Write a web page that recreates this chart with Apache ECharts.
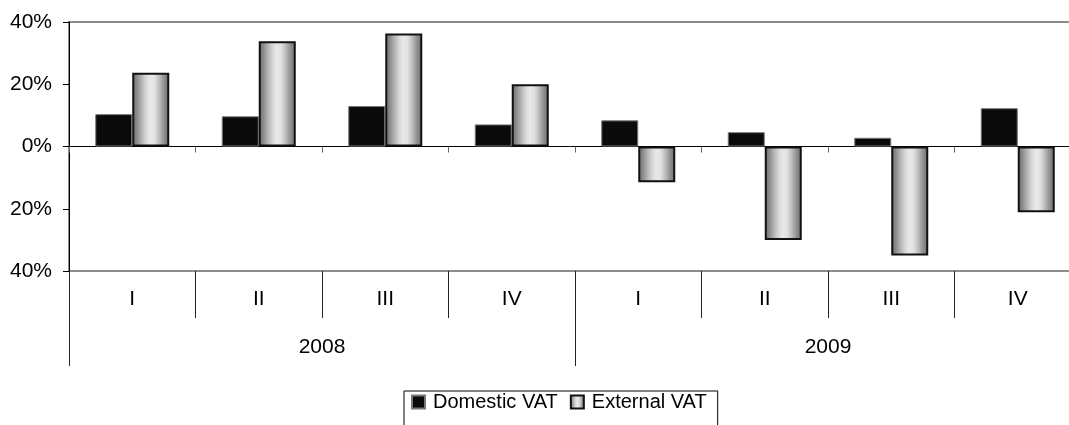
<!DOCTYPE html>
<html>
<head>
<meta charset="utf-8">
<script src="https://cdn.jsdelivr.net/npm/echarts@6/dist/echarts.min.js"></script>
<style>
html,body{margin:0;padding:0;background:#fff;}
#c{width:1069px;height:425px;}
</style>
</head>
<body>
<div id="c"></div>
<script>
const quarters = ['I','II','III','IV','I','II','III','IV'];
const years = ['2008','2009'];
const domesticVAT = [10.4, 9.7, 13.0, 7.1, 8.4, 4.6, 2.8, 12.3];
const externalVAT = [23.7, 33.8, 36.3, 20.0, -11.5, -30.0, -35.0, -21.1];
const seriesNames = ['Domestic VAT', 'External VAT'];

const FONT = 'Liberation Sans, Arial, sans-serif';
const chart = echarts.init(document.getElementById('c'), null, {renderer:'canvas'});

const extGradient = new echarts.graphic.LinearGradient(0,0,1,0,[
  {offset:0, color:'#6a6a6a'},
  {offset:0.12, color:'#8a8a8a'},
  {offset:0.25, color:'#b4b4b4'},
  {offset:0.38, color:'#d8d8d8'},
  {offset:0.48, color:'#e8e8e8'},
  {offset:0.6, color:'#e2e2e2'},
  {offset:0.72, color:'#c0c0c0'},
  {offset:0.86, color:'#909090'},
  {offset:1, color:'#6a6a6a'}
]);

chart.setOption({
  animation:false,
  backgroundColor:'#fff',
  textStyle:{fontFamily:FONT},
  grid:{left:69, top:22, width:1012, height:249, show:true, borderColor:'#8c8c8c', borderWidth:2,
        backgroundColor:'transparent', containLabel:false, outerBoundsMode:'none'},
  legend:{
    data:seriesNames.map(n => ({name:n, icon:'rect'})),
    left:404, top:391,
    padding:[1,11,30,7],
    itemGap:12,
    itemWidth:13, itemHeight:13,
    borderColor:'#000', borderWidth:1,
    textStyle:{fontFamily:FONT, fontSize:20, color:'#000', padding:[0,0,0,3]}
  },
  xAxis:[
    {
      type:'category', data:quarters, position:'bottom',
      axisLine:{onZero:true, lineStyle:{color:'#000', width:1}},
      axisTick:{show:true, length:6, lineStyle:{color:'#666'}},
      axisLabel:{show:false},
      splitLine:{show:false}
    },
    {
      type:'category', data:quarters, position:'bottom',
      axisLine:{show:false, onZero:false},
      axisTick:{show:true, length:47, lineStyle:{color:'#222', width:1}},
      axisLabel:{show:true, interval:0, margin:18, fontSize:21, color:'#000', fontFamily:FONT},
      splitLine:{show:false}
    },
    {
      type:'category', data:years, position:'bottom',
      axisLine:{show:false, onZero:false},
      axisTick:{show:true, length:95, lineStyle:{color:'#222', width:1}},
      axisLabel:{show:true, interval:0, margin:66, fontSize:21, color:'#000', fontFamily:FONT},
      splitLine:{show:false}
    }
  ],
  yAxis:{
    type:'value', min:-40, max:40, interval:20,
    axisLine:{show:true, lineStyle:{color:'#000', width:1}},
    axisTick:{show:true, length:6, lineStyle:{color:'#000'}},
    axisLabel:{margin:17, fontSize:21, color:'#000', fontFamily:FONT,
      formatter:function(v){return Math.abs(v)+'%';}},
    splitLine:{show:false}
  },
  series:[
    {
      name:seriesNames[0], type:'bar', xAxisIndex:0, data:domesticVAT,
      barWidth:37, barGap:'0%',
      itemStyle:{color:'#0a0a0a', borderColor:'#777', borderWidth:1}
    },
    {
      name:seriesNames[1], type:'bar', xAxisIndex:0, data:externalVAT,
      barWidth:37, barGap:'0%',
      itemStyle:{color:extGradient, borderColor:'#111', borderWidth:2}
    }
  ]
});
</script>
</body>
</html>
